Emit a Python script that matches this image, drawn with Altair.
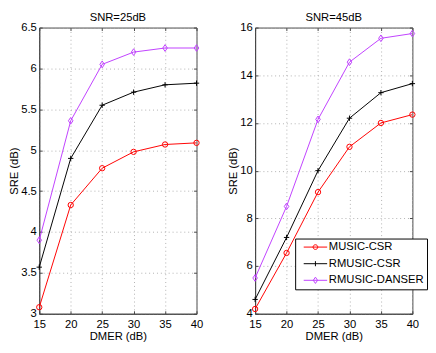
import altair as alt
import pandas as pd

dmer = [15, 20, 25, 30, 35, 40]
series = ["MUSIC-CSR", "RMUSIC-CSR", "RMUSIC-DANSER"]
colors = ["#ff0000", "#000000", "#bf40ff"]

snr25_music = [3.08, 4.33, 4.78, 4.98, 5.07, 5.09]
snr25_rmusic = [3.57, 4.90, 5.55, 5.71, 5.80, 5.82]
snr25_danser = [3.90, 5.36, 6.05, 6.20, 6.25, 6.25]

snr45_music = [4.2, 6.55, 9.1, 11.0, 12.0, 12.35]
snr45_rmusic = [4.6, 7.2, 10.0, 12.2, 13.27, 13.65]
snr45_danser = [5.5, 8.5, 12.15, 14.55, 15.55, 15.75]

y25_ticks = [3, 3.5, 4, 4.5, 5, 5.5, 6, 6.5]
y45_ticks = [4, 6, 8, 10, 12, 14, 16]
x_ticks = [15, 20, 25, 30, 35, 40]

FONT = "Liberation Sans"
FRAME = "#444444"

marker_shapes = [
    "circle",
    "M-1,0H1M0,-1V1",
    "M0,-1.25L0.85,0L0,1.25L-0.85,0Z",
]
legend_shapes = [
    "M-6,0H6M-1.2,0A1.2,1.2 0 1,0 1.2,0A1.2,1.2 0 1,0 -1.2,0",
    "M-6,0H6M0,-1.3V1.3",
    "M-6,0H6M0,-1.6L1.1,0L0,1.6L-1.1,0Z",
]


def make_df(vals):
    rows = []
    for s, v in zip(series, vals):
        for x, y in zip(dmer, v):
            rows.append({"dmer": x, "sre": y, "series": s})
    return pd.DataFrame(rows)


def tick_axis(values, orient):
    return alt.Axis(values=values, orient=orient, labels=False, domain=False, grid=False,
                    ticks=True, tickSize=3, offset=-3, tickColor=FRAME, title=None)


def panel(df, title, ydom, yticks, with_legend):
    color_scale = alt.Scale(domain=series, range=colors)
    xs = alt.Scale(domain=[15, 40], nice=False)
    ys = alt.Scale(domain=ydom, nice=False)
    x = alt.X("dmer:Q", scale=xs,
              axis=alt.Axis(values=x_ticks, title="DMER (dB)", format="~g", labelFlush=False))
    y = alt.Y("sre:Q", scale=ys,
              axis=alt.Axis(values=yticks, title="SRE (dB)", format="~g", labelFlush=False))
    base = alt.Chart(df)
    lines = base.mark_line(strokeWidth=1).encode(
        x=x, y=y,
        color=alt.Color("series:N", scale=color_scale, legend=None),
        detail="series:N",
    )
    pts = base.mark_point(filled=False, size=30, strokeWidth=1, opacity=1).encode(
        x=alt.X("dmer:Q", scale=xs, axis=tick_axis(x_ticks, "bottom")),
        y=alt.Y("sre:Q", scale=ys, axis=tick_axis(yticks, "left")),
        color=alt.Color("series:N", scale=color_scale, legend=None),
        shape=alt.Shape("series:N", scale=alt.Scale(domain=series, range=marker_shapes), legend=None),
    )
    layers = [lines, pts]
    ticks_tr = base.mark_point(opacity=0).encode(
        x=alt.X("dmer:Q", scale=xs, axis=tick_axis(x_ticks, "top")),
        y=alt.Y("sre:Q", scale=ys, axis=tick_axis(yticks, "right")),
    )
    layers.append(ticks_tr)
    if with_legend:
        leg_props = dict(
            title=None, orient="none", legendX=41, legendY=216,
            symbolOpacity=1, symbolStrokeWidth=1, symbolSize=16,
            symbolOffset=12, labelOffset=8,
            fillColor="white", strokeColor="black",
            padding=3, rowPadding=4,
            labelFont=FONT, labelFontSize=11.5, labelColor="black",
        )
        leg = base.mark_point(filled=False, size=16, opacity=0).encode(
            x=alt.X("dmer:Q", scale=xs, axis=None),
            y=alt.Y("sre:Q", scale=ys, axis=None),
            color=alt.Color("series:N", scale=color_scale, legend=alt.Legend(**leg_props)),
            shape=alt.Shape(
                "series:N",
                scale=alt.Scale(domain=series, range=legend_shapes),
                legend=alt.Legend(**leg_props),
            ),
        )
        layers.append(leg)
    ch = alt.layer(*layers).resolve_scale(
        shape="independent", color="independent"
    ).resolve_axis(x="independent", y="independent").properties(
        width=161, height=293,
        title=alt.Title(title, fontSize=11.5, font=FONT, fontWeight="normal", offset=-2),
    )
    return ch


left = panel(make_df([snr25_music, snr25_rmusic, snr25_danser]), "SNR=25dB", [3, 6.5], y25_ticks, False)
right = panel(make_df([snr45_music, snr45_rmusic, snr45_danser]), "SNR=45dB", [4, 16], y45_ticks, True)

chart = alt.hconcat(left, right, spacing=24, background="white", padding=0).resolve_scale(
    color="independent", shape="independent"
).configure_view(
    stroke=FRAME, strokeWidth=1
).configure_axis(
    labelFont=FONT, titleFont=FONT, labelFontSize=11.5, titleFontSize=11.5,
    titleFontWeight="normal", labelColor="black", titleColor="black",
    domainColor=FRAME, tickColor=FRAME, ticks=False,
    grid=True, gridColor="#b0b0b0", gridDash=[1, 3], gridWidth=1,
    labelPadding=3,
).configure_axisX(
    labelPadding=5, titlePadding=1
).configure_axisY(
    titlePadding=1
)

chart.save("out.html", embed_options={"renderer": "svg", "actions": False})
